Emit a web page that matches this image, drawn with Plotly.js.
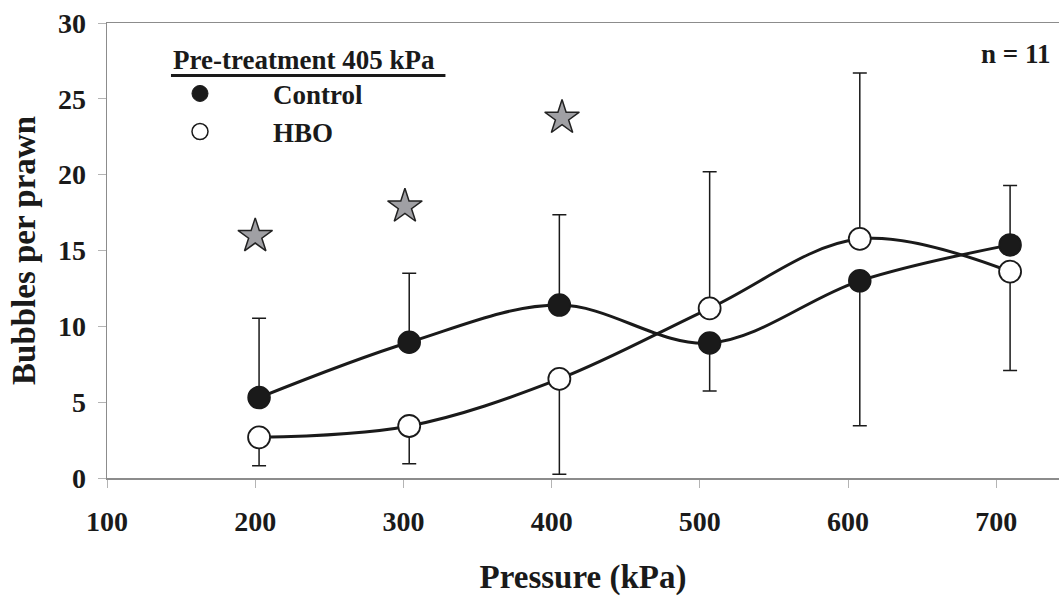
<!DOCTYPE html>
<html><head><meta charset="utf-8">
<script src="https://cdn.plot.ly/plotly-3.0.1.min.js"></script>
<style>html,body{margin:0;padding:0;background:#fff;} #chart{width:1059px;height:596px;}</style>
</head><body><div id="chart"></div>
<script>
// Pressures (kPa): 2..7 atm
const pressure = [202.6, 303.9, 405.2, 506.6, 607.9, 709.3];
const controlMean = [5.3, 8.95, 11.4, 8.9, 13.0, 15.37];
const controlErrPlus = [5.23, 4.55, 5.95, 0, 0, 3.91];
const controlErrMinus = [0, 0, 0, 3.16, 9.55, 0];
const hboMean = [2.68, 3.43, 6.53, 11.19, 15.77, 13.61];
const hboErrPlus = [0, 0, 0, 9.01, 10.93, 0];
const hboErrMinus = [1.87, 2.49, 6.29, 0, 0, 6.53];
const starX = [200, 301, 407];
const starY = [15.95, 17.9, 23.75];
const xTicks = [100, 200, 300, 400, 500, 600, 700];
const yTicks = [0, 5, 10, 15, 20, 25, 30];

const FONT = '"Liberation Serif", "Times New Roman", serif';
const INK = '#1a1a1a';

const errStyle = {thickness: 1.5, width: 7, color: INK};

const traces = [
  {
    x: pressure, y: controlMean, mode: 'lines+markers', name: 'Control', showlegend: false,
    line: {shape: 'spline', smoothing: 1, color: INK, width: 3},
    marker: {symbol: 'circle', size: 22, color: INK, line: {color: INK, width: 1.5}},
    error_y: Object.assign({type: 'data', symmetric: false, array: controlErrPlus, arrayminus: controlErrMinus}, errStyle)
  },
  {
    x: pressure, y: hboMean, mode: 'lines+markers', name: 'HBO', showlegend: false,
    line: {shape: 'spline', smoothing: 1, color: INK, width: 3},
    marker: {symbol: 'circle', size: 22, color: '#ffffff', line: {color: INK, width: 1.8}},
    error_y: Object.assign({type: 'data', symmetric: false, array: hboErrPlus, arrayminus: hboErrMinus}, errStyle)
  },
  {
    x: starX, y: starY, mode: 'markers', showlegend: false, name: 'significance',
    marker: {symbol: 'star', size: 26, color: '#a0a0a4', line: {color: '#222222', width: 1.5}}
  },
  {
    x: [null], y: [null], mode: 'markers', name: 'Control', legendgroup: 'c',
    marker: {symbol: 'circle', size: 16, color: INK, line: {color: INK, width: 1}}
  },
  {
    x: [null], y: [null], mode: 'markers', name: 'HBO', legendgroup: 'h',
    marker: {symbol: 'circle', size: 16, color: '#ffffff', line: {color: INK, width: 1.5}}
  }
];

const tickFont = {family: FONT, size: 28, color: INK, weight: 'bold'};
const titleFont = {family: FONT, size: 33, color: INK, weight: 'bold'};

const layout = {
  width: 1059, height: 596,
  margin: {l: 107, r: 0, t: 23, b: 118, pad: 0},
  paper_bgcolor: '#ffffff', plot_bgcolor: '#ffffff',
  showlegend: true,
  legend: {
    x: 0.021, y: 0.898, xanchor: 'left', yanchor: 'top',
    font: {family: FONT, size: 27, color: INK, weight: 'bold'},
    itemwidth: 136, tracegroupgap: 4, bgcolor: 'rgba(0,0,0,0)', borderwidth: 0,
    traceorder: 'normal'
  },
  xaxis: {
    range: [100, 742.3], tickvals: xTicks, showline: true, mirror: true,
    linecolor: '#8c8c8c', linewidth: 1.5, ticks: 'outside', ticklen: 8, tickwidth: 1,
    tickcolor: '#b4b4b4', showgrid: false, zeroline: false, tickfont: tickFont,
    ticklabelstandoff: 10, automargin: false,
    title: {text: 'Pressure (kPa)', font: titleFont, standoff: 31}
  },
  yaxis: {
    range: [0, 30], tickvals: yTicks, showline: true, mirror: false,
    linecolor: '#8c8c8c', linewidth: 1.5, ticks: 'outside', ticklen: 8, tickwidth: 1,
    tickcolor: '#b4b4b4', showgrid: false, zeroline: false, tickfont: tickFont,
    ticklabelstandoff: 6, automargin: false,
    title: {text: 'Bubbles per prawn', font: titleFont, standoff: 12}
  },
  annotations: [
    {text: 'Pre-treatment 405 kPa', xref: 'paper', yref: 'paper', x: 0.0672, y: 0.9187,
     xanchor: 'left', yanchor: 'middle', showarrow: false,
     font: {family: FONT, size: 27, color: INK, weight: 'bold'}},
    {text: 'n = 11', xref: 'paper', yref: 'paper', x: 0.9926, y: 0.932,
     xanchor: 'right', yanchor: 'middle', showarrow: false,
     font: {family: FONT, size: 27, color: INK, weight: 'bold'}}
  ],
  shapes: [
    {type: 'line', xref: 'paper', yref: 'paper', x0: 0.0672, x1: 0.3555, y0: 0.8846, y1: 0.8846,
     line: {color: INK, width: 3}}
  ]
};

Plotly.newPlot('chart', traces, layout, {displayModeBar: false, staticPlot: true});
</script>
</body></html>
